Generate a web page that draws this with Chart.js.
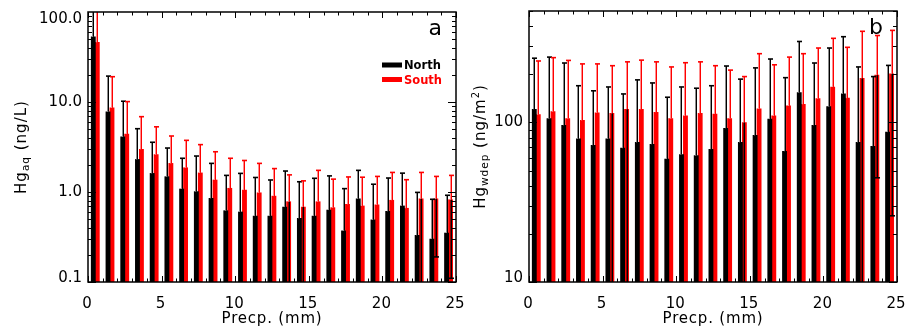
<!DOCTYPE html>
<html>
<head>
<meta charset="utf-8">
<title>Hg in precipitation by rain amount</title>
<script src="https://cdn.jsdelivr.net/npm/chart.js@4.4.1/dist/chart.umd.min.js"></script>
<style>
  html, body { margin: 0; padding: 0; background: #ffffff; }
  #wrap { position: relative; width: 906px; height: 327px; overflow: hidden; }
  #wrap canvas { position: absolute; left: 0; top: 0; }
</style>
</head>
<body>
<div id="wrap">
  <canvas id="panelA" width="906" height="327"></canvas>
  <canvas id="panelB" width="906" height="327"></canvas>
</div>
<script>
// Lower edge of each 1 mm precipitation bin
const precipBins = [0, 1, 2, 3, 4, 5, 6, 7, 8, 9, 10, 11, 12, 13, 14, 15, 16, 17, 18, 19, 20, 21, 22, 23, 24];
const xTickValues = [0, 5, 10, 15, 20, 25];
const seriesNames = ['North', 'South'];

// (a) Hg concentration in precipitation (ng/L): mean and standard deviation per bin
const northConc   = [53, 7.8, 4.1, 2.3, 1.61, 1.48, 1.08, 1.01, 0.85, 0.62, 0.60, 0.54, 0.54, 0.68, 0.51, 0.54, 0.63, 0.37, 0.84, 0.49, 0.61, 0.70, 0.33, 0.30, 0.35];
const northConcSd = [80, 11.6, 6.1, 2.75, 1.96, 1.60, 1.29, 1.50, 1.23, 0.91, 1.01, 0.91, 0.82, 1.03, 0.79, 0.88, 0.88, 0.72, 0.90, 0.73, 0.82, 0.92, 0.66, 0.53, 0.57];
const southConc   = [46, 8.6, 4.4, 2.98, 2.6, 2.08, 1.86, 1.63, 1.36, 1.10, 1.05, 0.98, 0.90, 0.78, 0.68, 0.78, 0.67, 0.73, 0.70, 0.72, 0.81, 0.66, 0.84, 0.84, 0.82];
const southConcSd = [70, 10.5, 5.7, 3.89, 2.7, 2.11, 1.89, 1.73, 1.44, 1.27, 1.19, 1.10, 0.92, 0.77, 0.65, 0.96, 0.72, 0.74, 0.76, 0.77, 0.84, 0.71, 0.81, 0.65, 0.71];
const concTickValues = [0.1, 1, 10, 100];
const concTickLabels = ['0.1', '1.0', '10.0', '100.0'];

// (b) Hg wet deposition (ng/m2): mean and standard deviation per bin
const northDep   = [121, 106, 96, 79, 72, 79, 69, 75, 73, 59, 63, 62, 68, 92, 75, 83, 105, 66, 154, 96, 126, 151, 75, 71, 87];
const northDepSd = [132, 151, 140, 91, 86, 88, 82, 110, 104, 85, 104, 102, 102, 134, 112, 137, 145, 125, 168, 140, 167, 194, 148, 123, 141];
const southDep   = [112, 117, 106, 103, 115, 114, 121, 121, 116, 106, 110, 114, 113, 106, 100, 122, 110, 127, 130, 141, 167, 142, 189, 198, 202];
const southDepSd = [131, 138, 139, 130, 118, 113, 119, 125, 124, 117, 127, 126, 114, 107, 94, 148, 120, 130, 140, 152, 170, 154, 184, 153, 176];
const depTickValues = [10, 100];
const depTickLabels = ['10', '100'];

const FONT = "'DejaVu Sans', Verdana, sans-serif";
const BLACK = '#000000';
const RED = '#ff0000';
const SERIES_COLORS = [BLACK, RED];
const SERIES_HALO = ['#8c8c8c', '#ff8c8c'];
const BAR_OFFSETS = [0.36, 0.63];   // bar centre inside each bin

function barPoints(values, offset) {
  return precipBins.map((b, i) => ({ x: b + offset, y: values[i] }));
}

function strokeLine(ctx, x1, y1, x2, y2) {
  ctx.beginPath();
  ctx.moveTo(x1, y1);
  ctx.lineTo(x2, y2);
  ctx.stroke();
}

// Whiskers: upper half in the series colour, lower half (when above zero) in black
function errorBarPlugin(sdLists) {
  return {
    id: 'errorBars',
    afterDatasetsDraw(chart) {
      const { ctx, chartArea: a, scales: { x, y } } = chart;
      ctx.save();
      ctx.beginPath();
      ctx.rect(a.left, a.top, a.right - a.left, a.bottom - a.top);
      ctx.clip();
      chart.data.datasets.forEach((ds, di) => {
        const sd = sdLists[di];
        ds.data.forEach((p, i) => {
          const cx = Math.round(x.getPixelForValue(p.x));
          const yMean = y.getPixelForValue(p.y);
          const yHi = y.getPixelForValue(p.y + sd[i]);
          ctx.lineWidth = 1;
          ctx.strokeStyle = SERIES_HALO[di];
          strokeLine(ctx, cx - 0.5, yMean, cx - 0.5, yHi);
          ctx.strokeStyle = SERIES_COLORS[di];
          strokeLine(ctx, cx + 0.5, yMean, cx + 0.5, yHi);
          ctx.lineWidth = 1.6;
          strokeLine(ctx, cx - 2, yHi, cx + 3, yHi);
          const low = p.y - sd[i];
          if (low > 0) {
            const yLo = y.getPixelForValue(low);
            ctx.lineWidth = 1;
            ctx.strokeStyle = 'rgba(0,0,0,0.45)';
            strokeLine(ctx, cx - 0.5, yMean, cx - 0.5, yLo);
            ctx.strokeStyle = BLACK;
            strokeLine(ctx, cx + 0.5, yMean, cx + 0.5, yLo);
            ctx.lineWidth = 1.6;
            strokeLine(ctx, cx - 2, yLo, cx + 3, yLo);
          }
        });
      });
      ctx.restore();
    }
  };
}

function drawRotatedTitle(ctx, parts, baselineX, centerY) {
  ctx.save();
  ctx.letterSpacing = '1px';
  let total = 0;
  parts.forEach(p => {
    ctx.font = p.size + 'px ' + FONT;
    p.w = ctx.measureText(p.text).width;
    total += p.w;
  });
  ctx.translate(baselineX, centerY);
  ctx.rotate(-Math.PI / 2);
  ctx.fillStyle = BLACK;
  ctx.textAlign = 'left';
  ctx.textBaseline = 'alphabetic';
  let pos = -total / 2;
  parts.forEach(p => {
    ctx.font = p.size + 'px ' + FONT;
    ctx.fillText(p.text, pos, p.dy);
    pos += p.w;
  });
  ctx.restore();
}

// Frame, inward ticks, y labels, axis titles, panel letter and legend
function decorPlugin(cfg) {
  return {
    id: 'panelDecor',
    afterDraw(chart) {
      const { ctx, chartArea: a, scales: { x, y } } = chart;
      ctx.save();
      ctx.strokeStyle = BLACK;
      ctx.lineWidth = 1.5;
      ctx.strokeRect(a.left, a.top, a.right - a.left, a.bottom - a.top);

      ctx.lineWidth = 1;
      for (let v = x.min; v <= x.max; v++) {
        const px = Math.round(x.getPixelForValue(v)) + 0.5;
        const len = v % 5 === 0 ? 6 : 3.5;
        strokeLine(ctx, px, a.bottom, px, a.bottom - len);
        strokeLine(ctx, px, a.top, px, a.top + len);
      }
      for (let dec = Math.pow(10, Math.floor(Math.log10(y.min) + 1e-9)); dec < y.max; dec *= 10) {
        for (let m = 1; m < 10; m++) {
          const v = dec * m;
          if (v < y.min * 0.999 || v > y.max * 1.001) continue;
          const py = Math.round(y.getPixelForValue(v)) + 0.5;
          const len = m === 1 ? 8 : 4;
          strokeLine(ctx, a.left, py, a.left + len, py);
          strokeLine(ctx, a.right, py, a.right - len, py);
        }
      }

      ctx.fillStyle = BLACK;
      ctx.font = '15px ' + FONT;
      ctx.textAlign = 'right';
      cfg.yTickValues.forEach((v, i) => {
        const py = y.getPixelForValue(v);
        if (Math.abs(v - y.max) < 1e-9) {
          ctx.textBaseline = 'top';
          ctx.fillText(cfg.yTickLabels[i], a.left - 6, py);
        } else if (Math.abs(v - y.min) < 1e-9) {
          ctx.textBaseline = 'alphabetic';
          ctx.fillText(cfg.yTickLabels[i], a.left - 6, py);
        } else {
          ctx.textBaseline = 'middle';
          ctx.fillText(cfg.yTickLabels[i], a.left - 6, py);
        }
      });

      ctx.save();
      ctx.letterSpacing = '0.8px';
      ctx.textAlign = 'center';
      ctx.textBaseline = 'alphabetic';
      ctx.font = '15px ' + FONT;
      ctx.fillText('Precp. (mm)', (a.left + a.right) / 2, 323);
      ctx.restore();

      drawRotatedTitle(ctx, cfg.yTitle, cfg.yTitleX, (a.top + a.bottom) / 2);

      ctx.font = '22px ' + FONT;
      ctx.textAlign = 'right';
      ctx.textBaseline = 'alphabetic';
      ctx.fillText(cfg.letter, a.right - 14, a.top + 23);

      if (cfg.legend) {
        chart.data.datasets.forEach((ds, i) => {
          const top = a.top + 50.5 + i * 14.5;
          ctx.fillStyle = ds.backgroundColor;
          ctx.fillRect(a.left + 294, top, 20, 5);
          ctx.font = 'bold 11.5px ' + FONT;
          ctx.textAlign = 'left';
          ctx.textBaseline = 'alphabetic';
          ctx.fillText(ds.label, a.left + 316, top + 6.5);
        });
      }
      ctx.restore();
    }
  };
}

function makePanel(id, cfg) {
  return new Chart(document.getElementById(id), {
    type: 'bar',
    data: {
      datasets: [
        { label: seriesNames[0], data: barPoints(cfg.north, BAR_OFFSETS[0]), backgroundColor: BLACK, barThickness: 4.2, grouped: false },
        { label: seriesNames[1], data: barPoints(cfg.south, BAR_OFFSETS[1]), backgroundColor: RED, barThickness: 4.2, grouped: false }
      ]
    },
    options: {
      responsive: false,
      animation: false,
      devicePixelRatio: 1,
      layout: { padding: cfg.padding },
      plugins: { legend: { display: false }, tooltip: { enabled: false } },
      scales: {
        x: {
          type: 'linear', min: 0, max: 25, offset: false,
          grid: { display: false }, border: { display: false },
          ticks: {
            color: BLACK, padding: 5, labelOffset: -1, maxRotation: 0, autoSkip: false,
            font: { family: FONT, size: 15 },
            callback: v => String(v)
          },
          afterBuildTicks: s => { s.ticks = xTickValues.map(v => ({ value: v })); },
          afterFit: s => { s.height = 45; s.paddingLeft = 0; s.paddingRight = 0; }
        },
        y: {
          type: 'logarithmic', min: cfg.yMin, max: cfg.yMax,
          grid: { display: false }, border: { display: false },
          ticks: { display: false },
          afterFit: s => { s.width = cfg.yWidth; s.paddingTop = 0; s.paddingBottom = 0; }
        }
      }
    },
    plugins: [errorBarPlugin([cfg.northSd, cfg.southSd]), decorPlugin(cfg)]
  });
}

makePanel('panelA', {
  north: northConc, northSd: northConcSd, south: southConc, southSd: southConcSd,
  yMin: 0.1, yMax: 100, yTickValues: concTickValues, yTickLabels: concTickLabels,
  padding: { left: 0, right: 450, top: 12, bottom: 0 }, yWidth: 88,
  yTitle: [
    { text: 'Hg', size: 15, dy: 0 },
    { text: 'aq', size: 10.5, dy: 3 },
    { text: ' (ng/L)', size: 15, dy: 0 }
  ],
  yTitleX: 26, letter: 'a', legend: true
});

makePanel('panelB', {
  north: northDep, northSd: northDepSd, south: southDep, southSd: southDepSd,
  yMin: 10, yMax: 500, yTickValues: depTickValues, yTickLabels: depTickLabels,
  padding: { left: 450, right: 9, top: 11, bottom: 0 }, yWidth: 79,
  yTitle: [
    { text: 'Hg', size: 15, dy: 0 },
    { text: 'wdep', size: 10.5, dy: 3 },
    { text: ' (ng/m', size: 15, dy: 0 },
    { text: '2', size: 10, dy: -6 },
    { text: ')', size: 15, dy: 0 }
  ],
  yTitleX: 484.5, letter: 'b', legend: false
});
</script>
</body>
</html>
